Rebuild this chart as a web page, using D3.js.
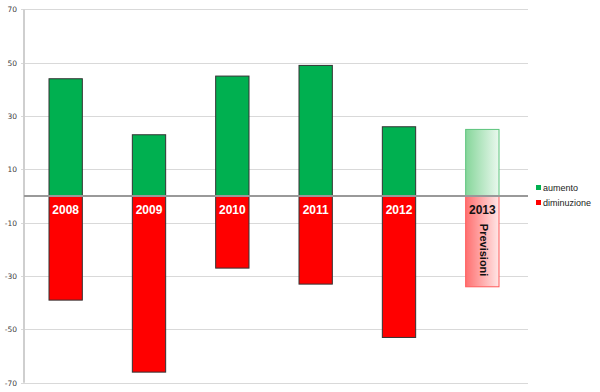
<!DOCTYPE html>
<html><head><meta charset="utf-8">
<script src="https://cdnjs.cloudflare.com/ajax/libs/d3/7.8.5/d3.min.js"></script>
<style>body{margin:0;background:#fff}svg{display:block}</style>
</head><body>
<svg id="c" width="600" height="392"></svg>
<script>
const years = ["2008","2009","2010","2011","2012","2013"];
const aumento = [44, 23, 45, 49, 26, 25];
const diminuzione = [-39, -66, -27, -33, -53, -34];
const yTicks = [70, 50, 30, 10, -10, -30, -50, -70];
const forecastYear = "2013";
const forecastLabel = "Previsioni";
const legendLabels = ["aumento", "diminuzione"];

const svg = d3.select("#c");
const x0 = 24, x1 = 524;
const x = d3.scaleBand().domain(years).range([x0, x1]).paddingInner(0.6).paddingOuter(0.3);
const y = d3.scaleLinear().domain([-70, 70]).range([382.8, 9.4]);

const defs = svg.append("defs");
const gG = defs.append("linearGradient").attr("id","gG");
gG.append("stop").attr("offset","0%").attr("stop-color","#86d69a");
gG.append("stop").attr("offset","100%").attr("stop-color","#eaf8ee");
const gR = defs.append("linearGradient").attr("id","gR");
gR.append("stop").attr("offset","0%").attr("stop-color","#ff7070");
gR.append("stop").attr("offset","100%").attr("stop-color","#ffe6e6");

// gridlines
svg.append("g").selectAll("line").data(yTicks).join("line")
  .attr("x1", x0 - 3).attr("x2", x1 + 4)
  .attr("y1", d => Math.round(y(d)) + 0.5).attr("y2", d => Math.round(y(d)) + 0.5)
  .attr("stroke", "#d9d9d9").attr("stroke-width", 1);

// y axis line
svg.append("line").attr("x1", x0).attr("x2", x0).attr("y1", y(70)).attr("y2", y(-70))
  .attr("stroke", "#cfcfcf").attr("stroke-width", 2);

// tick labels
svg.append("g").selectAll("text").data(yTicks).join("text")
  .attr("x", 17).attr("y", d => y(d) + 3)
  .attr("text-anchor", "end")
  .attr("font-family", "DejaVu Sans, sans-serif").attr("font-size", 7.5)
  .attr("fill", "#404040").text(d => d);

const bw = x.bandwidth();
// bars
years.forEach((yr, i) => {
  const fc = yr === forecastYear;
  svg.append("rect").attr("x", x(yr)).attr("width", bw)
    .attr("y", y(aumento[i])).attr("height", y(0) - y(aumento[i]))
    .attr("fill", fc ? "url(#gG)" : "#00b050")
    .attr("stroke", fc ? "#5cc47c" : "#333").attr("stroke-width", 1);
  svg.append("rect").attr("x", x(yr)).attr("width", bw)
    .attr("y", y(0)).attr("height", y(diminuzione[i]) - y(0))
    .attr("fill", fc ? "url(#gR)" : "#ff0000")
    .attr("stroke", fc ? "#ff5a5a" : "#333").attr("stroke-width", 1);
});

// zero line
svg.append("line").attr("x1", x0).attr("x2", x1 + 4).attr("y1", y(0)).attr("y2", y(0))
  .attr("stroke", "#999").attr("stroke-width", 2);

// year labels
svg.append("g").selectAll("text").data(years).join("text")
  .attr("x", d => x(d) + bw / 2).attr("y", y(0) + 18)
  .attr("text-anchor", "middle")
  .attr("font-family", "Liberation Sans, Arial, sans-serif").attr("font-weight", "bold")
  .attr("font-size", 12)
  .attr("fill", d => d === forecastYear ? "#111" : "#fff").text(d => d);

// Previsioni
const px = x(forecastYear) + bw / 2, py = y(0) + 54;
svg.append("text").attr("transform", `translate(${px - 2},${py}) rotate(90)`)
  .attr("text-anchor", "middle")
  .attr("font-family", "Liberation Sans, Arial, sans-serif").attr("font-weight", "bold")
  .attr("font-size", 11).attr("fill", "#111").text(forecastLabel);

// legend
const lg = svg.append("g");
const lc = ["#00b050", "#ff0000"];
legendLabels.forEach((l, i) => {
  lg.append("rect").attr("x", 536).attr("y", 185 + i * 15).attr("width", 5).attr("height", 5).attr("fill", lc[i]);
  lg.append("text").attr("x", 543).attr("y", 191 + i * 15)
    .attr("font-family", "Liberation Sans, Arial, sans-serif").attr("font-size", 9)
    .attr("fill", "#222").text(l);
});
</script>
</body></html>
